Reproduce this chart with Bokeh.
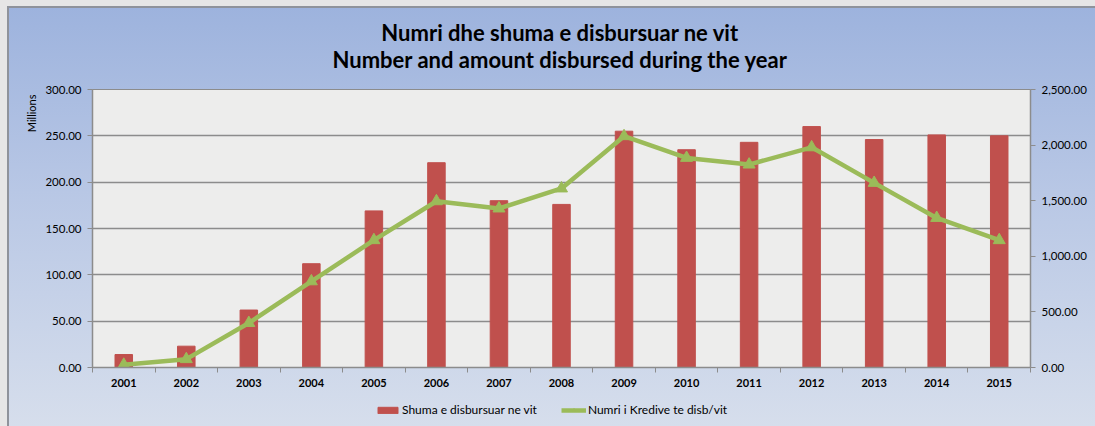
from bokeh.plotting import figure
from bokeh.layouts import column
from bokeh.models import (Range1d, LinearAxis, FixedTicker, NumeralTickFormatter,
                          Legend, LegendItem, Title, Label)
from bokeh.embed import file_html
from bokeh.resources import INLINE

years = [2001, 2002, 2003, 2004, 2005, 2006, 2007, 2008,
         2009, 2010, 2011, 2012, 2013, 2014, 2015]
amount_millions = [14, 23, 62, 112, 169, 221, 180, 176,
                   255, 235, 243, 260, 246, 251, 250]
loan_count = [25, 75, 400, 775, 1145, 1495, 1430, 1610,
              2080, 1885, 1825, 1980, 1660, 1345, 1145]
left_ticks = [0, 50, 100, 150, 200, 250, 300]
right_ticks = [0, 500, 1000, 1500, 2000, 2500]
title_line1 = "Numri dhe shuma e disbursuar ne vit"
title_line2 = "Number and amount disbursed during the year"
left_axis_title = "Millions"
bar_label = "Shuma e disbursuar ne vit"
line_label = "Numri i Kredive te disb/vit"

FONT = "Lato"
GRAY = "#8c8c8c"
W = 1095
TITLE_H = 75
MAIN_H = 321
LEG_H = 30

# ---------- title strip ----------
tf = figure(width=W, height=TITLE_H, x_range=Range1d(0, W), y_range=Range1d(0, TITLE_H),
            output_backend="svg", toolbar_location=None, min_border=0)
tf.axis.visible = False
tf.grid.visible = False
tf.outline_line_color = None
tf.border_fill_color = None
tf.background_fill_color = None
for txt, yy in ((title_line1, 43), (title_line2, 16)):
    tf.add_layout(Label(x=546, y=yy, text=txt, text_align="center", text_baseline="middle",
                        text_font=FONT, text_font_size="22px", text_font_style="bold",
                        text_color="black"))

# ---------- main chart ----------
p = figure(width=W, height=MAIN_H, x_range=Range1d(2000.5, 2015.5),
           y_range=Range1d(0, 300), output_backend="svg", toolbar_location=None,
           min_border_left=92, min_border_right=65, min_border_top=14,
           min_border_bottom=29)
p.extra_y_ranges = {"count": Range1d(0, 2500)}
p.border_fill_color = None
p.background_fill_color = "#ededec"
p.outline_line_color = GRAY

p.add_layout(Title(text=left_axis_title, align="right", text_font=FONT,
                   text_font_size="11px", text_font_style="normal",
                   text_color="black", standoff=10, offset=5), "left")

xa = p.xaxis[0]
xa.ticker = FixedTicker(ticks=years, minor_ticks=[y - 0.5 for y in years] + [years[-1] + 0.5])
xa.major_tick_line_color = None
xa.minor_tick_line_color = GRAY
xa.minor_tick_in = 0
xa.minor_tick_out = 5
xa.axis_line_color = GRAY
xa.axis_line_width = 1.5
xa.major_label_text_font = FONT
xa.major_label_text_font_size = "11px"
xa.major_label_text_font_style = "bold"
xa.major_label_text_color = "black"
xa.major_label_standoff = 5

ya = p.yaxis[0]
ya.ticker = FixedTicker(ticks=left_ticks)
ya.formatter = NumeralTickFormatter(format="0.00")
ya.axis_line_color = GRAY
ya.axis_line_width = 1.5
ya.major_tick_line_color = GRAY
ya.major_tick_in = 0
ya.major_tick_out = 5
ya.minor_tick_line_color = None
ya.major_label_text_font = FONT
ya.major_label_text_font_size = "11.5px"
ya.major_label_text_color = "black"
ya.major_label_standoff = 6

ra = LinearAxis(y_range_name="count", ticker=FixedTicker(ticks=right_ticks),
                formatter=NumeralTickFormatter(format="0,0.00"))
ra.axis_line_color = GRAY
ra.axis_line_width = 1.5
ra.major_tick_line_color = GRAY
ra.major_tick_in = 0
ra.major_tick_out = 5
ra.minor_tick_line_color = None
ra.major_label_text_font = FONT
ra.major_label_text_font_size = "11.5px"
ra.major_label_text_color = "black"
ra.major_label_standoff = 6
p.add_layout(ra, "right")

p.xgrid.grid_line_color = None
p.ygrid.ticker = FixedTicker(ticks=left_ticks)
p.ygrid.grid_line_color = GRAY
p.ygrid.grid_line_width = 1.5

p.vbar(x=years, top=amount_millions, width=0.28, color="#c0504d")
p.line(years, loan_count, y_range_name="count", line_width=4.5, color="#9bbb59")
p.scatter(years, loan_count, y_range_name="count", marker="triangle",
          size=12, color="#9bbb59")

# ---------- legend strip (legend renderers lie outside its visible ranges) ----------
lf = figure(width=W, height=LEG_H, x_range=Range1d(0, 1), y_range=Range1d(0, 1),
            output_backend="svg", toolbar_location=None, min_border=0)
lf.axis.visible = False
lf.grid.visible = False
lf.outline_line_color = None
lf.border_fill_color = None
lf.background_fill_color = None
lg_bar = lf.vbar(x=[0.5], top=[-2], bottom=[-3], width=0.1, color="#c0504d")
lg_line = lf.line(x=[0.4, 0.6], y=[-2, -2], line_width=4.5, color="#9bbb59")
lg_pts = lf.scatter(x=[0.5], y=[-2], marker="triangle", size=9, color="#9bbb59")
legend = Legend(items=[LegendItem(label=bar_label, renderers=[lg_bar]),
                       LegendItem(label=line_label, renderers=[lg_line, lg_pts])],
                orientation="horizontal", location=(283, 9),
                border_line_color=None, background_fill_alpha=0,
                label_text_font=FONT, label_text_font_size="12px",
                label_text_color="black",
                glyph_width=25, glyph_height=8, spacing=24, padding=2, margin=0,
                label_standoff=2)
lf.add_layout(legend)

layout = column(tf, p, lf, spacing=0)
layout.styles = {
    "background": ("linear-gradient(#e6e6e6, #e6e6e6) 0px 0px / 7px 100% no-repeat, "
                   "linear-gradient(#e6e6e6, #e6e6e6) 0px 0px / 100% 6px no-repeat, "
                   "linear-gradient(#8f939b, #8f939b) 7px 6px / 2px 100% no-repeat, "
                   "linear-gradient(#8f939b, #8f939b) 7px 6px / 100% 2px no-repeat, "
                   "linear-gradient(to bottom, #9cb2dd 0%, #b8c7e5 45%, #d6deec 100%)"),
    "vertical-align": "top",
}

open("out.html", "w").write(file_html(layout, INLINE))
